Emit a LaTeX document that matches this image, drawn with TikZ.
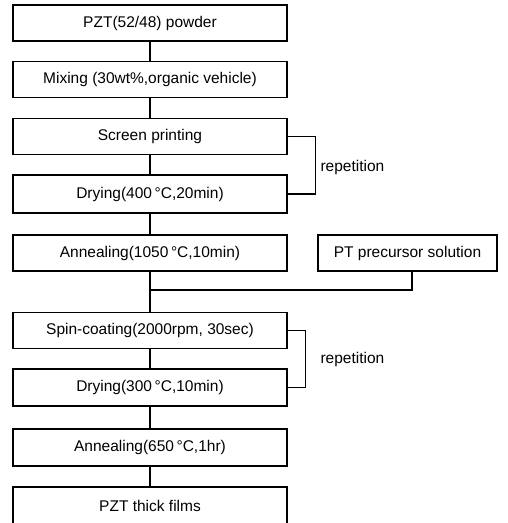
\documentclass[tikz,border=0pt]{standalone}
\usepackage{fontspec}
\setmainfont{Liberation Sans}
\usepackage{tikz}

\begin{document}
\begin{tikzpicture}[x=1pt,y=-1pt,line width=1.1pt]
    \tikzset{every node/.style={inner sep=0pt,font=\fontsize{15.5}{18}\selectfont},
      stepbox/.style={draw,minimum width=274pt,minimum height=36pt},
      pcbox/.style={draw,minimum width=179pt,minimum height=36pt}}
    \useasboundingbox (0,0) rectangle (507,523);
    \node [stepbox] (pzt) at (150,23) {PZT(52/48) powder};
    \node [stepbox] (mix) at (150,79.5) {Mixing (30wt\%,organic vehicle)};
    \node [stepbox] (scr) at (150,136.5) {Screen printing};
    \node [stepbox,minimum height=38pt] (dryA) at (150,194) {Drying(400\,\textdegree C,20min)};
    \node [stepbox] (annA) at (150,253) {Annealing(1050\,\textdegree C,10min)};
    \node [pcbox] (pt) at (407.5,253) {PT precursor solution};
    \node [stepbox] (spin) at (150,330.5) {Spin-coating(2000rpm, 30sec)};
    \node [stepbox,minimum height=37pt] (dryB) at (150,387.5) {Drying(300\,\textdegree C,10min)};
    \node [stepbox,minimum height=37pt] (annB) at (150,447.5) {Annealing(650\,\textdegree C,1hr)};
    \node [stepbox,minimum height=38pt] (film) at (150,506) {PZT thick films};
    \coordinate (merge) at (150,290);
    % main flow
    \draw (pzt) -- (mix);
    \draw (mix) -- (scr);
    \draw (scr) -- (dryA);
    \draw (dryA) -- (annA);
    \draw (annA) -- (merge) -- (spin);
    \draw (merge) -| (pt.south -| 412,0);
    \draw (spin) -- (dryB);
    \draw (dryB) -- (annB);
    \draw (annB) -- (film);
    % repetition brackets
    \draw (scr.east) -- ++(28,0) |- (dryA.east);
    \node [anchor=west] (repA) at (320,167) {repetition};
    \draw (spin.east) -- ++(18,0) |- (dryB.east);
    \node [anchor=west] (repB) at (320,359) {repetition};
\end{tikzpicture}
\end{document}
